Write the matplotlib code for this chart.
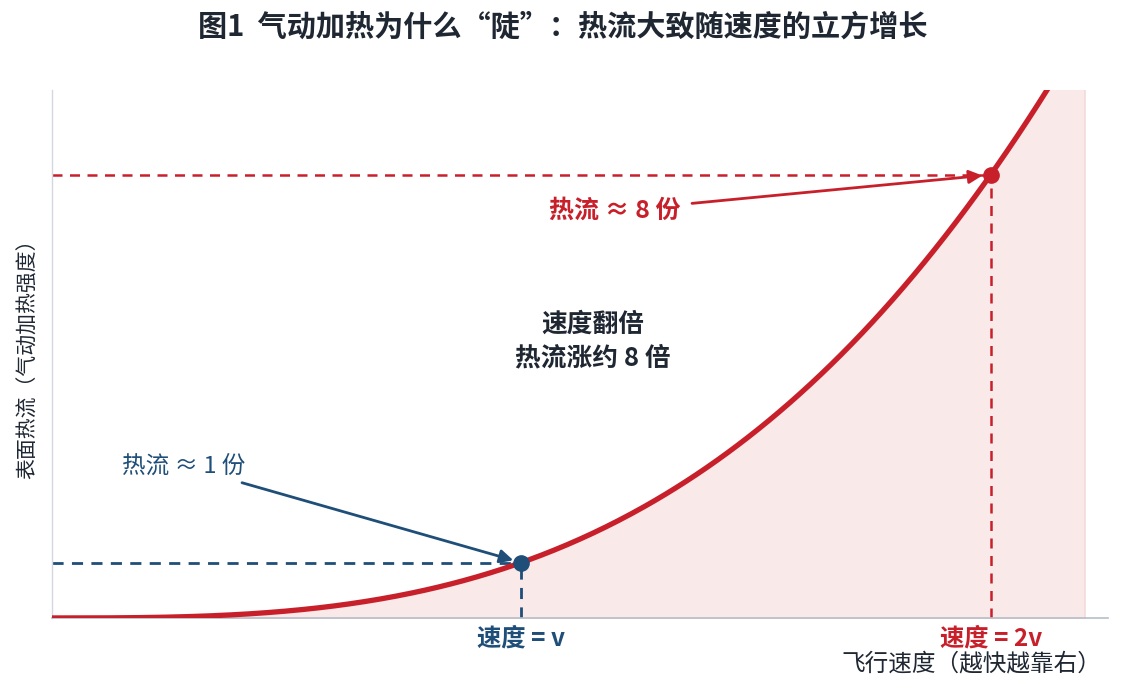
import numpy as np
import matplotlib
matplotlib.use("Agg")
import matplotlib.pyplot as plt

plt.rcParams['font.family'] = ['Noto Sans CJK SC', 'DejaVu Sans']

# Data
speed_points = [1.0, 2.0]          # v, 2v
heat_points = [1.0, 8.0]           # relative heat flux ~ v^3
tick_labels = ["速度 = v", "速度 = 2v"]
curve_x = np.linspace(0, 2.2, 400)
curve_y = curve_x ** 3

RED = "#c8202a"
BLUE = "#1f4e79"
DARK = "#1f2733"

fig = plt.figure(figsize=(11.25, 6.92), dpi=100)
ax = fig.add_axes([0.0462, 0.107, 0.9387, 0.763])

ax.fill_between(curve_x, 0, curve_y, color="#f9e9e9", edgecolor="#f4d6d6", linewidth=1, zorder=1)
ax.plot(curve_x, curve_y, color=RED, lw=3.8, zorder=3, solid_capstyle="butt")

# guide lines
ax.plot([0, speed_points[0]], [heat_points[0]] * 2, color=BLUE, lw=2, ls=(0, (4, 3)), zorder=2)
ax.plot([speed_points[0]] * 2, [0, heat_points[0]], color=BLUE, lw=2, ls=(0, (4, 3)), zorder=2)
ax.plot([0, speed_points[1]], [heat_points[1]] * 2, color=RED, lw=1.8, ls=(0, (4, 3)), zorder=2)
ax.plot([speed_points[1]] * 2, [0, heat_points[1]], color=RED, lw=1.8, ls=(0, (4, 3)), zorder=2)

ax.plot(speed_points[0], heat_points[0], "o", color=BLUE, ms=11, zorder=5)
ax.plot(speed_points[1], heat_points[1], "o", color=RED, ms=11, zorder=5)

ax.annotate("热流 ≈ 1 份", xy=(speed_points[0], heat_points[0]), xytext=(0.15, 2.74),
            xycoords="data", textcoords="data", color=BLUE, fontsize=17,
            ha="left", va="center",
            arrowprops=dict(arrowstyle="-|>", color=BLUE, lw=2, mutation_scale=20,
                            shrinkA=6, shrinkB=6))
ax.annotate("热流 ≈ 8 份", xy=(speed_points[1], heat_points[1]), xytext=(1.2, 7.35),
            xycoords="data", textcoords="data", color=RED, fontsize=18, fontweight="bold",
            ha="center", va="center",
            arrowprops=dict(arrowstyle="-|>", color=RED, lw=2, mutation_scale=20,
                            shrinkA=6, shrinkB=6))

ax.text(1.152, 5.0, "速度翻倍\n热流涨约 8 倍", ha="center", va="center",
        fontsize=18.5, fontweight="bold", color=DARK, linespacing=1.3)

ax.set_xlim(0, 2.25)
ax.set_ylim(0, 9.53)
ax.set_xticks(speed_points)
ax.set_xticklabels(tick_labels, fontsize=17.5, fontweight="bold")
for lbl, c in zip(ax.get_xticklabels(), [BLUE, RED]):
    lbl.set_color(c)
ax.tick_params(axis="x", length=0, pad=6)
ax.set_yticks([])

ax.set_xlabel("飞行速度（越快越靠右）", fontsize=17, color=DARK)
ax.xaxis.set_label_coords((1101 - 52) / 1056, -(664 - 618) / 528)
ax.xaxis.label.set_ha("right")
ax.xaxis.label.set_va("center")
ax.set_ylabel("表面热流（气动加热强度）", fontsize=15, color=DARK)
ax.yaxis.set_label_coords(-(52 - 28) / 1056, 0.5)
ax.yaxis.label.set_va("center")

for s in ["top", "right"]:
    ax.spines[s].set_visible(False)
ax.spines["left"].set_color("#d3d8df")
ax.spines["bottom"].set_color("#b7bec8")
ax.spines["left"].set_linewidth(1)
ax.spines["bottom"].set_linewidth(1.2)

fig.text(0.5, 1 - 27 / 692, "图1  气动加热为什么“陡”：热流大致随速度的立方增长",
         ha="center", va="center", fontsize=21, fontweight="bold", color=DARK)

fig.savefig("out.png", dpi=100, facecolor="white")
